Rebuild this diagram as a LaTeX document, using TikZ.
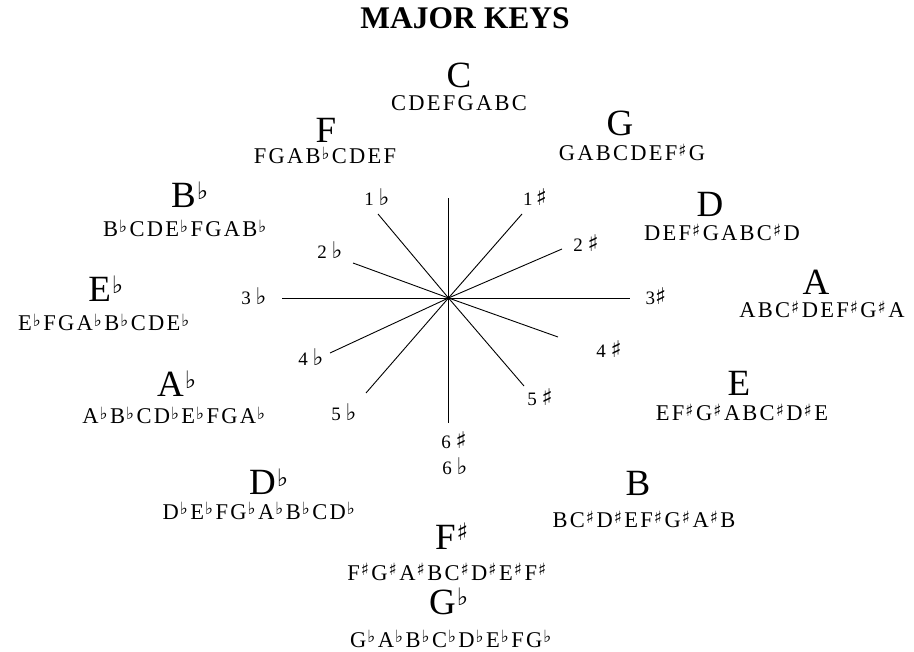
\documentclass[tikz,border=0pt]{standalone}
\usepackage{graphicx}
\usepackage{fontspec}
\setmainfont{Liberation Serif}
\newfontfamily\symfont{DejaVu Sans}
\newfontfamily\notefont[LetterSpace=10]{Liberation Serif}
\newcommand\shp[1][.75]{\kern1pt\raisebox{.22em}{\scalebox{#1}{\symfont ♯}}\kern2.5pt}
\newcommand\flt[1][.75]{\kern1pt\raisebox{.22em}{\scalebox{#1}{\symfont ♭}}\kern2.5pt}
\newcommand\cshp{{\symfont\fontsize{23}{23}\selectfont ♯}}
\newcommand\cflt{{\symfont\fontsize{23}{23}\selectfont ♭}}

\begin{document}
\begin{tikzpicture}[x=1pt, y=-1pt,
      every node/.style={inner sep=0pt, anchor=base},
      heading/.style={font=\bfseries\fontsize{31.5}{36}\selectfont},
      keyname/.style={font=\fontsize{37}{40}\selectfont},
      keyscale/.style={font=\notefont\fontsize{22.5}{24}\selectfont},
      count/.style={font=\fontsize{19}{20}\selectfont},
      spoke/.style={line width=0.9pt}
    ]
    \useasboundingbox (0,0) rectangle (914,652);

    \node[heading] (title) at (465,29) {MAJOR KEYS};

    % the star of accidentals
    \coordinate (hub) at (448.5,298);
    \coordinate (e0)  at (448.5,198);
    \coordinate (e6)  at (448.5,423);
    \coordinate (e3s) at (630,298);
    \coordinate (e3f) at (282,298);
    \coordinate (e1s) at (522,214);
    \coordinate (e1f) at (378,214);
    \coordinate (e2s) at (562,249);
    \coordinate (e2f) at (353,263);
    \coordinate (e4s) at (558,337);
    \coordinate (e4f) at (330,353);
    \coordinate (e5s) at (524,386);
    \coordinate (e5f) at (366,393);

    \draw[spoke] (hub) -- (e0);
    \draw[spoke] (hub) -- (e6);
    \draw[spoke] (hub) -- (e3s);
    \draw[spoke] (hub) -- (e3f);
    \draw[spoke] (hub) -- (e1s);
    \draw[spoke] (hub) -- (e1f);
    \draw[spoke] (hub) -- (e2s);
    \draw[spoke] (hub) -- (e2f);
    \draw[spoke] (hub) -- (e4s);
    \draw[spoke] (hub) -- (e4f);
    \draw[spoke] (hub) -- (e5s);
    \draw[spoke] (hub) -- (e5f);

    \node[count] (n1f) at (377,206) {1 \cflt};
    \node[count] (n1s) at (535,206) {1\,\cshp};
    \node[count] (n2f) at (330,259) {2 \cflt};
    \node[count] (n2s) at (586,252) {2 \cshp};
    \node[count] (n3f) at (254,305) {3 \cflt};
    \node[count] (n3s) at (656,305) {3\cshp};
    \node[count] (n4f) at (311,366) {4 \cflt};
    \node[count] (n4s) at (609,358) {4 \cshp};
    \node[count] (n5f) at (344,421) {5 \cflt};
    \node[count] (n5s) at (540,406) {5 \cshp};
    \node[count] (n6s) at (454,449) {6 \cshp};
    \node[count] (n6f) at (455,475) {6 \cflt};

    % keys, clockwise from C
    \node[keyname]  (kC)  at (459,88)  {C};
    \node[keyscale] (sC)  at (459,111) {CDEFGABC};
    \node[keyname]  (kG)  at (620,136) {G};
    \node[keyscale] (sG)  at (632,161) {GABCDEF\shp G};
    \node[keyname]  (kD)  at (710,217) {D};
    \node[keyscale] (sD)  at (722,241) {DEF\shp GABC\shp D};
    \node[keyname]  (kA)  at (816,295) {A};
    \node[keyscale] (sA)  at (822,318) {ABC\shp DEF\shp G\shp A};
    \node[keyname]  (kE)  at (739,396) {E};
    \node[keyscale] (sE)  at (742,421) {EF\shp G\shp ABC\shp D\shp E};
    \node[keyname]  (kB)  at (638,496) {B};
    \node[keyscale] (sB)  at (644,528) {BC\shp D\shp EF\shp G\shp A\shp B};
    \node[keyname]  (kFs) at (453,549) {F\shp[.65]};
    \node[keyscale] (sFs) at (448,580) {F\shp G\shp A\shp BC\shp D\shp E\shp F\shp};
    \node[keyname]  (kGf) at (450,614) {G\flt[.65]};
    \node[keyscale] (sGf) at (452,647) {G\flt A\flt B\flt C\flt D\flt E\flt FG\flt};
    \node[keyname]  (kDf) at (270,495) {D\flt[.65]};
    \node[keyscale] (sDf) at (260,519) {D\flt E\flt FG\flt A\flt B\flt CD\flt};
    \node[keyname]  (kAf) at (178,397) {A\flt[.65]};
    \node[keyscale] (sAf) at (175,424) {A\flt B\flt CD\flt E\flt FGA\flt};
    \node[keyname]  (kEf) at (107,302) {E\flt[.65]};
    \node[keyscale] (sEf) at (105,331) {E\flt FGA\flt B\flt CDE\flt};
    \node[keyname]  (kBf) at (191,208) {B\flt[.65]};
    \node[keyscale] (sBf) at (186,237) {B\flt CDE\flt FGAB\flt};
    \node[keyname]  (kF)  at (326,143) {F};
    \node[keyscale] (sF)  at (325,164) {FGAB\flt CDEF};
  \end{tikzpicture}
\end{document}
